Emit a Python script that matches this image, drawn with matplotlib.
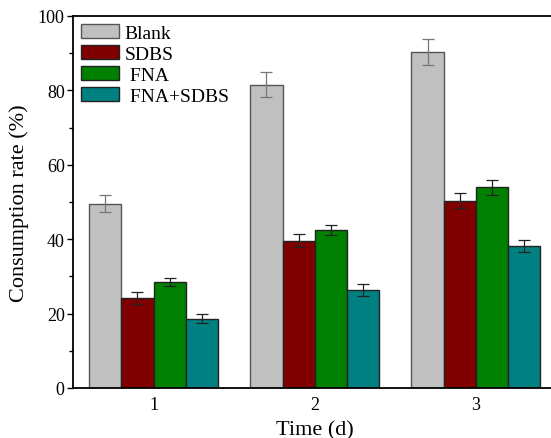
import numpy as np
import matplotlib
matplotlib.use('Agg')
import matplotlib.pyplot as plt
from matplotlib.ticker import MultipleLocator

days = ['1', '2', '3']
series = ['Blank', 'SDBS', ' FNA', ' FNA+SDBS']
blank = [49.5, 81.5, 90.4]
sdbs = [24.1, 39.6, 50.3]
fna = [28.5, 42.5, 53.9]
fna_sdbs = [18.6, 26.3, 38.1]
blank_err = [2.3, 3.4, 3.5]
sdbs_err = [1.6, 1.7, 2.0]
fna_err = [1.2, 1.4, 1.9]
fna_sdbs_err = [1.2, 1.6, 1.6]

colors = ['#c0c0c0', '#800000', '#008000', '#008080']
edges = ['#555555', '#222222', '#222222', '#222222']
err_colors = ['#777777', '#222222', '#222222', '#222222']

plt.rcParams['font.family'] = 'Liberation Serif'

fig = plt.figure(figsize=(5.51, 4.39), dpi=100)
ax = fig.add_axes([0.1325, 0.1139, 0.8775, 0.8474])

x = np.arange(1, len(days) + 1)
width = 0.2
values = [blank, sdbs, fna, fna_sdbs]
errors = [blank_err, sdbs_err, fna_err, fna_sdbs_err]

for i, (vals, errs) in enumerate(zip(values, errors)):
    pos = x + (i - 1.5) * width
    ax.bar(pos, vals, width, color=colors[i], edgecolor=edges[i],
           linewidth=1.0, label=series[i])
    ax.errorbar(pos, vals, yerr=errs, fmt='none', ecolor=err_colors[i],
                elinewidth=0.9, capsize=4, capthick=0.9)

ax.set_xlim(0.5, 3.5)
ax.set_ylim(0, 100)
ax.set_xticks(x)
ax.set_xticklabels(days)
ax.yaxis.set_major_locator(MultipleLocator(20))
ax.yaxis.set_minor_locator(MultipleLocator(10))
ax.tick_params(axis='x', length=0, pad=6, labelsize=13)
ax.tick_params(axis='y', which='major', length=4, width=1.0, labelsize=13,
               direction='out', pad=2)
ax.tick_params(axis='y', which='minor', length=3, width=1.0, direction='out')

for s in ax.spines.values():
    s.set_linewidth(1.3)

ax.set_xlabel('Time (d)', fontsize=16, labelpad=5)
ax.set_ylabel('Consumption rate (%)', fontsize=16, labelpad=6)

ax.legend(loc='upper left', frameon=False, fontsize=14, handlelength=1.95,
          handleheight=0.78, labelspacing=0.15, handletextpad=0.3,
          borderaxespad=0.2, borderpad=0.2)

fig.savefig('out.png', dpi=100)
